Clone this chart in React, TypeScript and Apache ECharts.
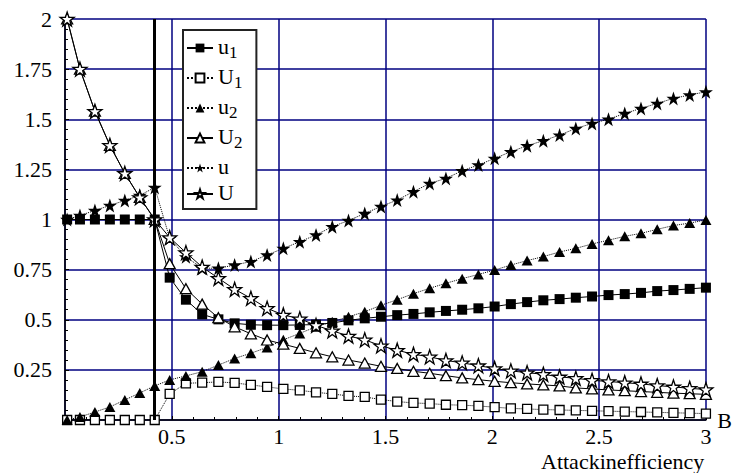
import React, { useEffect, useRef } from 'react';
import * as echarts from 'echarts';

const xValues = [
  0.01, 0.07, 0.14, 0.21, 0.28, 0.35, 0.42,
  0.49, 0.566, 0.642, 0.718, 0.794, 0.87, 0.946, 1.022, 1.099, 1.175,
  1.251, 1.327, 1.403, 1.479, 1.555, 1.631, 1.707, 1.783, 1.859, 1.935,
  2.011, 2.087, 2.163, 2.239, 2.315, 2.391, 2.467, 2.544, 2.62, 2.696,
  2.772, 2.848, 2.924, 3.0,
];

const u1Values = [
  1, 1, 1, 1, 1, 1, 1,
  0.71, 0.6, 0.527, 0.502, 0.482, 0.475, 0.473, 0.473, 0.474, 0.476,
  0.484, 0.497, 0.507, 0.515, 0.523, 0.529, 0.537, 0.544, 0.55, 0.557,
  0.566, 0.578, 0.588, 0.597, 0.603, 0.61, 0.616, 0.623, 0.628, 0.634,
  0.643, 0.648, 0.654, 0.66,
];

const U1Values = [
  0, 0, 0, 0, 0, 0, 0,
  0.13, 0.183, 0.186, 0.19, 0.185, 0.175, 0.165, 0.155, 0.148, 0.138,
  0.13, 0.12, 0.115, 0.102, 0.092, 0.085, 0.082, 0.076, 0.074, 0.07,
  0.064, 0.058, 0.055, 0.052, 0.05, 0.048, 0.046, 0.044, 0.042, 0.04,
  0.038, 0.036, 0.034, 0.032,
];

const u2Values = [
  0, 0.015, 0.04, 0.065, 0.1, 0.135, 0.17,
  0.2, 0.22, 0.241, 0.274, 0.307, 0.333, 0.362, 0.4, 0.432, 0.465,
  0.49, 0.515, 0.54, 0.572, 0.6, 0.63, 0.657, 0.682, 0.705, 0.726,
  0.748, 0.773, 0.795, 0.815, 0.838, 0.856, 0.878, 0.897, 0.916, 0.931,
  0.951, 0.97, 0.982, 0.998,
];

const U2Values = [
  2.0, 1.75, 1.54, 1.37, 1.23, 1.11, 1.0,
  0.78, 0.655, 0.578, 0.51, 0.465, 0.43, 0.399, 0.378, 0.357, 0.335,
  0.315, 0.299, 0.284, 0.268, 0.257, 0.243, 0.233, 0.221, 0.21, 0.201,
  0.193, 0.186, 0.18, 0.175, 0.17, 0.16, 0.155, 0.15, 0.146, 0.142,
  0.138, 0.134, 0.131, 0.128,
];

const uValues = [
  1.0, 1.02, 1.045, 1.07, 1.095, 1.12, 1.16,
  0.906, 0.814, 0.757, 0.757, 0.773, 0.79, 0.823, 0.856, 0.889, 0.923,
  0.964, 0.995, 1.03, 1.065, 1.097, 1.139, 1.18, 1.205, 1.243, 1.272,
  1.305, 1.338, 1.368, 1.393, 1.421, 1.454, 1.479, 1.5, 1.529, 1.554,
  1.579, 1.604, 1.621, 1.637,
];

const UValues = [
  2.0, 1.75, 1.54, 1.37, 1.23, 1.11, 1.0,
  0.91, 0.835, 0.763, 0.707, 0.652, 0.607, 0.557, 0.524, 0.505, 0.472,
  0.445, 0.419, 0.4, 0.37, 0.348, 0.328, 0.315, 0.297, 0.285, 0.271,
  0.257, 0.245, 0.236, 0.228, 0.215, 0.208, 0.198, 0.192, 0.186, 0.18,
  0.172, 0.165, 0.158, 0.152,
];

const thresholdX = 0.42;
const seriesNames = ['u1', 'U1', 'u2', 'U2', 'u', 'U'];
const xAxisName = 'B';
const xTitle = 'Attackinefficiency';

const STAR =
  'path://M50,2 L61.8,36.2 L97.6,36.2 L68.6,57.4 L79.4,91.6 L50,70.4 L20.6,91.6 L31.4,57.4 L2.4,36.2 L38.2,36.2 Z';

const FONT = "'Liberation Serif', 'Times New Roman', 'DejaVu Serif', serif";

export default function App() {
  const ref = useRef<HTMLDivElement>(null);

  useEffect(() => {
    const chart = echarts.init(ref.current!, null, { renderer: 'svg' });

    const mk = (
      name: string,
      ys: number[],
      symbol: string,
      size: number | number[],
      filled: boolean,
      dotted: boolean,
      extra: any = {}
    ) => ({
      type: 'line',
      name,
      data: xValues.map((x, i) => [x, ys[i]]),
      symbol,
      symbolSize: size,
      showSymbol: true,
      showAllSymbol: true,
      lineStyle: { color: '#000', width: 1, type: dotted ? 'dotted' : 'solid' },
      itemStyle: {
        color: filled ? '#000' : '#fff',
        borderColor: '#000',
        borderWidth: filled ? 0 : 1.3,
      },
      emphasis: { disabled: true },
      ...extra,
    });

    const option: any = {
      animation: false,
      textStyle: { fontFamily: FONT },
      grid: { left: 65, right: 22, top: 19, bottom: 53, containLabel: false },
      xAxis: {
        type: 'value',
        min: 0,
        max: 3,
        interval: 0.5,
        name: xAxisName,
        nameLocation: 'end',
        nameGap: 9,
        nameTextStyle: { fontFamily: FONT, fontSize: 22, color: '#000' },
        axisLine: { show: true, onZero: false, lineStyle: { color: '#000', width: 1.5 } },
        axisTick: { show: true, inside: true, length: 4, lineStyle: { color: '#000' } },
        minorTick: { show: true, splitNumber: 5, length: 3, lineStyle: { color: '#000' } },
        splitLine: { show: true, lineStyle: { color: '#000080', width: 1.5 } },
        axisLabel: {
          showMinLabel: false,
          fontFamily: FONT,
          fontSize: 22,
          color: '#000',
          margin: 5,
        },
      },
      yAxis: {
        type: 'value',
        min: 0,
        max: 2,
        interval: 0.25,
        axisLine: { show: true, onZero: false, lineStyle: { color: '#000', width: 1.5 } },
        axisTick: { show: true, inside: true, length: 4, lineStyle: { color: '#000' } },
        minorTick: { show: true, splitNumber: 5, length: 3, lineStyle: { color: '#000' } },
        splitLine: { show: true, lineStyle: { color: '#000080', width: 1.5 } },
        axisLabel: {
          showMinLabel: false,
          fontFamily: FONT,
          fontSize: 22,
          color: '#000',
          margin: 13,
        },
      },
      legend: {
        orient: 'vertical',
        left: 183,
        top: 30,
        data: seriesNames,
        selectedMode: false,
        backgroundColor: '#fff',
        borderColor: '#222',
        borderWidth: 2,
        borderRadius: 0,
        padding: [5, 14, 6, 3],
        itemGap: 4,
        itemWidth: 26,
        itemHeight: 11,
        formatter: (name: string) =>
          name.length === 2 ? `{m|${name[0]}}{s|${name[1]}}` : `{m|${name}}`,
        textStyle: {
          fontFamily: FONT,
          fontSize: 22,
          color: '#000',
          rich: {
            m: { fontFamily: FONT, fontSize: 22, color: '#000', lineHeight: 26, verticalAlign: 'top' },
            s: {
              fontFamily: FONT,
              fontSize: 17,
              color: '#000',
              lineHeight: 16,
              padding: [9, 0, 0, 0],
              verticalAlign: 'top',
            },
          },
        },
      },
      graphic: [
        {
          type: 'text',
          left: 541,
          top: 450,
          style: { text: xTitle, fontFamily: FONT, fontSize: 22, fill: '#000' },
        },
      ],
      series: [
        mk('u1', u1Values, 'rect', 10, true, false, {
          markLine: {
            silent: true,
            symbol: 'none',
            label: { show: false },
            lineStyle: { color: '#000', width: 3, type: 'solid' },
            data: [{ xAxis: thresholdX }],
          },
        }),
        mk('U1', U1Values, 'rect', 9, false, true),
        mk('u2', u2Values, 'triangle', [11, 10], true, true),
        mk('U2', U2Values, 'triangle', [11, 10], false, false),
        mk('u', uValues, STAR, 14, true, true),
        mk('U', UValues, STAR, 14, false, false),
      ],
    };

    chart.setOption(option);
    return () => chart.dispose();
  }, []);

  return (
    <div
      ref={ref}
      style={{ position: 'fixed', left: 0, top: 0, width: 735, height: 473, background: '#fff' }}
    />
  );
}
